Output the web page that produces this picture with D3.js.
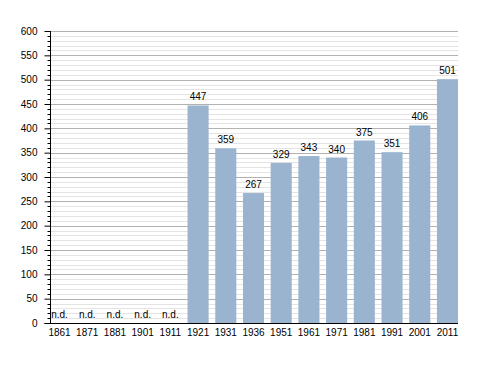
<!DOCTYPE html>
<html>
<head>
<meta charset="utf-8">
<script src="https://cdn.jsdelivr.net/npm/d3@7.9.0/dist/d3.min.js"></script>
<style>
  body { margin: 0; background: #fff; }
  svg text { font-family: "Liberation Sans", Arial, sans-serif; font-size: 10px; fill: #000; }
</style>
</head>
<body>
<div id="chart"></div>
<script>
// data
const years = ["1861", "1871", "1881", "1901", "1911", "1921", "1931", "1936",
  "1951", "1961", "1971", "1981", "1991", "2001", "2011"];
const population = [null, null, null, null, null, 447, 359, 267,
  329, 343, 340, 375, 351, 406, 501];
const yTicks = [0, 50, 100, 150, 200, 250, 300, 350, 400, 450, 500, 550, 600];

const width = 488, height = 373;

const svg = d3.select("#chart").append("svg")
  .attr("width", width)
  .attr("height", height);

const x = d3.scaleBand()
  .domain(years)
  .range([49, 458])
  .paddingInner(0.24)
  .paddingOuter(0);

const y = d3.scaleLinear()
  .domain([0, 600])
  .range([323, 31]);

const axisX = 50.5;

// minor grid
svg.append("g")
  .selectAll("line")
  .data(d3.range(10, 600, 10).filter(v => v % 50 !== 0))
  .join("line")
  .attr("x1", axisX).attr("x2", 458)
  .attr("y1", d => Math.round(y(d)) + 0.5)
  .attr("y2", d => Math.round(y(d)) + 0.5)
  .attr("stroke", "#e4e4e4");

// major grid
svg.append("g")
  .selectAll("line")
  .data(yTicks.filter(v => v > 0))
  .join("line")
  .attr("x1", axisX).attr("x2", 458)
  .attr("y1", d => Math.round(y(d)) + 0.5)
  .attr("y2", d => Math.round(y(d)) + 0.5)
  .attr("stroke", "#b2b2b2");

// bars
svg.append("g")
  .selectAll("rect")
  .data(years.map((yr, i) => ({ yr, v: population[i] })).filter(d => d.v !== null))
  .join("rect")
  .attr("x", d => x(d.yr))
  .attr("width", x.bandwidth())
  .attr("y", d => y(d.v))
  .attr("height", d => y(0) - y(d.v))
  .attr("fill", "#9ab3cf");

// value labels
svg.append("g")
  .selectAll("text")
  .data(years.map((yr, i) => ({ yr, v: population[i] })))
  .join("text")
  .attr("x", d => x(d.yr) + x.bandwidth() / 2)
  .attr("y", d => y(d.v === null ? 0 : d.v) - 5)
  .attr("text-anchor", "middle")
  .text(d => d.v === null ? "n.d." : d.v);

// y axis
const yAxis = svg.append("g")
  .attr("transform", `translate(${axisX},0)`)
  .call(d3.axisLeft(y).tickValues(yTicks).tickSize(6).tickPadding(7))
  .call(g => g.select(".domain").remove());
yAxis.selectAll(".tick line").attr("stroke", "#000");
yAxis.selectAll("text").style("font-size", "10px").attr("fill", "#000");

// minor y ticks
svg.append("g")
  .selectAll("line")
  .data(d3.range(10, 600, 10).filter(v => v % 50 !== 0))
  .join("line")
  .attr("x1", axisX - 3).attr("x2", axisX)
  .attr("y1", d => Math.round(y(d)) + 0.5)
  .attr("y2", d => Math.round(y(d)) + 0.5)
  .attr("stroke", "#000");

svg.append("line")
  .attr("x1", axisX).attr("x2", axisX)
  .attr("y1", y(600)).attr("y2", y(0))
  .attr("stroke", "#000");

// x axis
const xAxis = svg.append("g")
  .attr("transform", `translate(0,${Math.round(y(0)) + 0.5})`)
  .call(d3.axisBottom(x).tickSize(0).tickPadding(5))
  .call(g => g.select(".domain").remove());
xAxis.selectAll("text").style("font-size", "10px").attr("fill", "#000");

svg.append("line")
  .attr("x1", 44.5).attr("x2", 458)
  .attr("y1", Math.round(y(0)) + 0.5).attr("y2", Math.round(y(0)) + 0.5)
  .attr("stroke", "#000");
</script>
</body>
</html>
